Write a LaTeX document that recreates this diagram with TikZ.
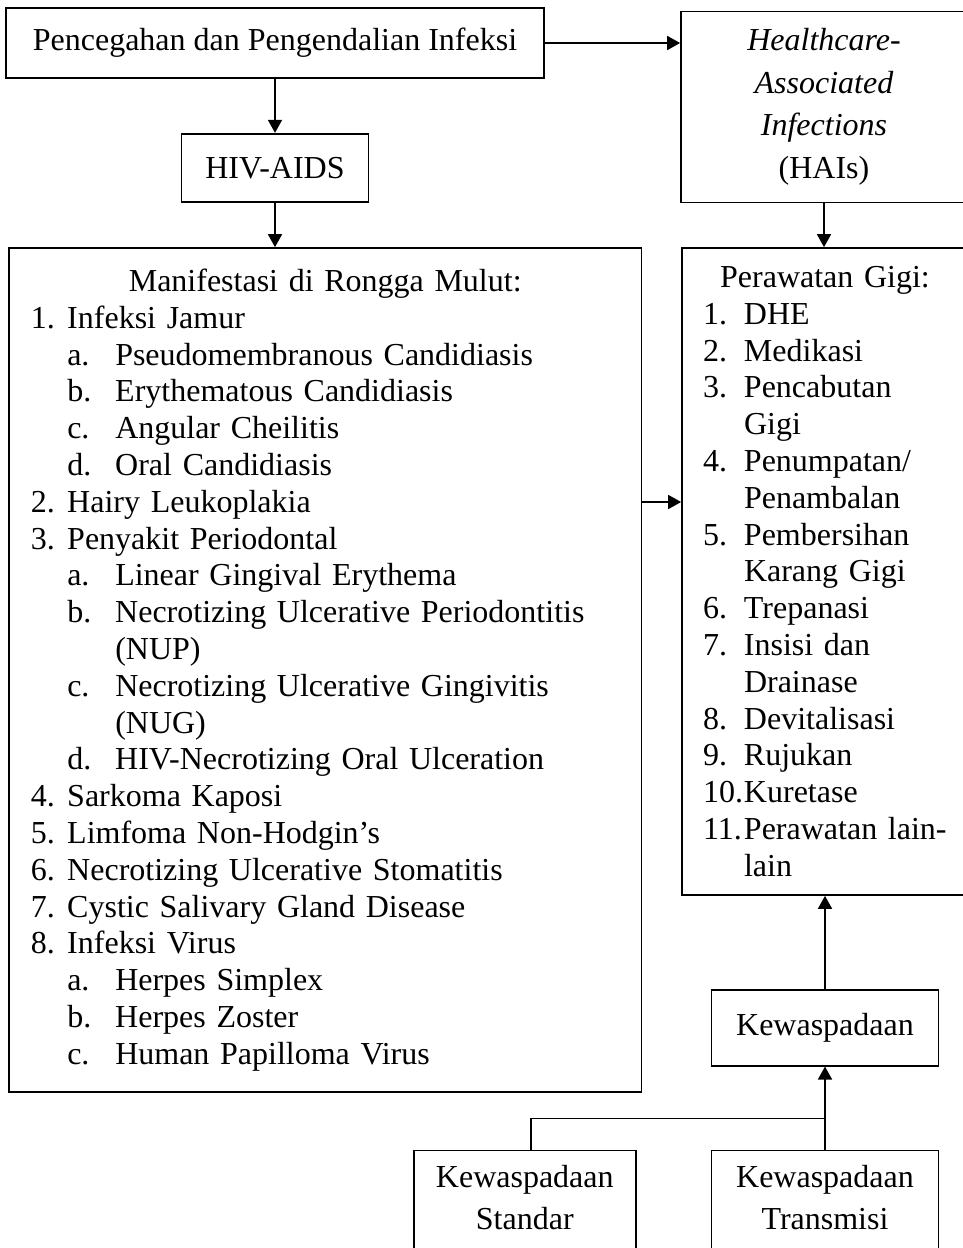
\documentclass[tikz,border=0pt]{standalone}
\usepackage{fontspec}
\setmainfont{Liberation Serif}
\usepackage{tikz}
\usetikzlibrary{positioning}
\usetikzlibrary{arrows.meta}

\newcommand{\mitem}[2]{\makebox[36.5pt][l]{#1}#2}
\newcommand{\msub}[2]{\hspace*{36.5pt}\makebox[48pt][l]{#1}#2}
\newcommand{\mcont}[1]{\hspace*{84.5pt}#1}
\newcommand{\pitem}[2]{\makebox[41pt][l]{#1}#2}
\newcommand{\pcont}[1]{\hspace*{41pt}#1}

\tikzset{
  box/.style={draw, inner sep=0pt, align=center, font=\fontsize{32}{36.8}\selectfont},
  tall/.style={font=\fontsize{32}{42.5}\selectfont},
}

\begin{document}
\begin{tikzpicture}[x=1pt, y=-1pt, line width=1.7pt, ->, >={Triangle[length=13pt, width=14pt]}]
    \path[use as bounding box, clip] (0,0) rectangle (963,1248);

    \node[box, minimum width=538pt, minimum height=70pt] (pi) at (275,43) {Pencegahan dan Pengendalian Infeksi};
    \node[box, minimum width=187pt, minimum height=68pt, below=54pt of pi] (hiv) {HIV-AIDS};
    \node[box, tall, minimum width=286pt, minimum height=191pt] (hai) at (824,107)
        {\textit{Healthcare-}\\\textit{Associated}\\\textit{Infections}\\(HAIs)};

    % manifestasi di rongga mulut
    \node[box, align=left, text width=589pt, inner xsep=21.75pt, minimum height=844pt] (man) at (325.25,670) {%
        \makebox[589pt][c]{Manifestasi di Rongga Mulut:}\\
        \mitem{1.}{Infeksi Jamur}\\
        \msub{a.}{Pseudomembranous Candidiasis}\\
        \msub{b.}{Erythematous Candidiasis}\\
        \msub{c.}{Angular Cheilitis}\\
        \msub{d.}{Oral Candidiasis}\\
        \mitem{2.}{Hairy Leukoplakia}\\
        \mitem{3.}{Penyakit Periodontal}\\
        \msub{a.}{Linear Gingival Erythema}\\
        \msub{b.}{\makebox[504.5pt][s]{Necrotizing Ulcerative Periodontitis}}\\
        \mcont{(NUP)}\\
        \msub{c.}{\makebox[504.5pt][s]{Necrotizing Ulcerative Gingivitis}}\\
        \mcont{(NUG)}\\
        \msub{d.}{HIV-Necrotizing Oral Ulceration}\\
        \mitem{4.}{Sarkoma Kaposi}\\
        \mitem{5.}{Limfoma Non-Hodgin’s}\\
        \mitem{6.}{Necrotizing Ulcerative Stomatitis}\\
        \mitem{7.}{Cystic Salivary Gland Disease}\\
        \mitem{8.}{Infeksi Virus}\\
        \msub{a.}{Herpes Simplex}\\
        \msub{b.}{Herpes Zoster}\\
        \msub{c.}{Human Papilloma Virus}};

    % perawatan gigi
    \node[box, align=left, text width=244pt, inner xsep=21pt, minimum height=647pt] (pg) at (825,571.5) {%
        \makebox[244pt][c]{Perawatan Gigi:}\\
        \pitem{1.}{DHE}\\
        \pitem{2.}{Medikasi}\\
        \pitem{3.}{Pencabutan}\\
        \pcont{Gigi}\\
        \pitem{4.}{Penumpatan/}\\
        \pcont{Penambalan}\\
        \pitem{5.}{Pembersihan}\\
        \pcont{Karang Gigi}\\
        \pitem{6.}{Trepanasi}\\
        \pitem{7.}{\makebox[203pt][s]{Insisi dan}}\\
        \pcont{Drainase}\\
        \pitem{8.}{Devitalisasi}\\
        \pitem{9.}{Rujukan}\\
        \pitem{10.}{Kuretase}\\
        \pitem{11.}{\makebox[203pt][s]{Perawatan lain-}}\\
        \pcont{lain}};

    \node[box, minimum width=227pt, minimum height=76pt, below=93pt of pg] (kw) {Kewaspadaan};
    \node[box, tall, minimum width=227pt, text height=64.5pt, text depth=40pt, inner ysep=15pt, below=83pt of kw] (kt) {Kewaspadaan\\Transmisi};
    \node[box, tall, minimum width=222pt, text height=64.5pt, text depth=40pt, inner ysep=15pt, left=74pt of kt] (ks) {Kewaspadaan\\Standar};
    \coordinate[above=31pt of kt] (j);

    \draw (pi) -- (hiv);
    \draw (pi.east) -- (pi.east -| hai.west);
    \draw (hiv) -- (hiv.south |- man.north);
    \draw (hai.south) -- (hai.south |- pg.north);
    \draw ([yshift=168pt]man.east) -- ([yshift=168pt]man.east -| pg.west);
    \draw (kw) -- (kw.north |- pg.south);
    \draw (kt) -- (kw);
    \draw[-] ([xshift=6pt]ks.north) |- (j);
\end{tikzpicture}
\end{document}
